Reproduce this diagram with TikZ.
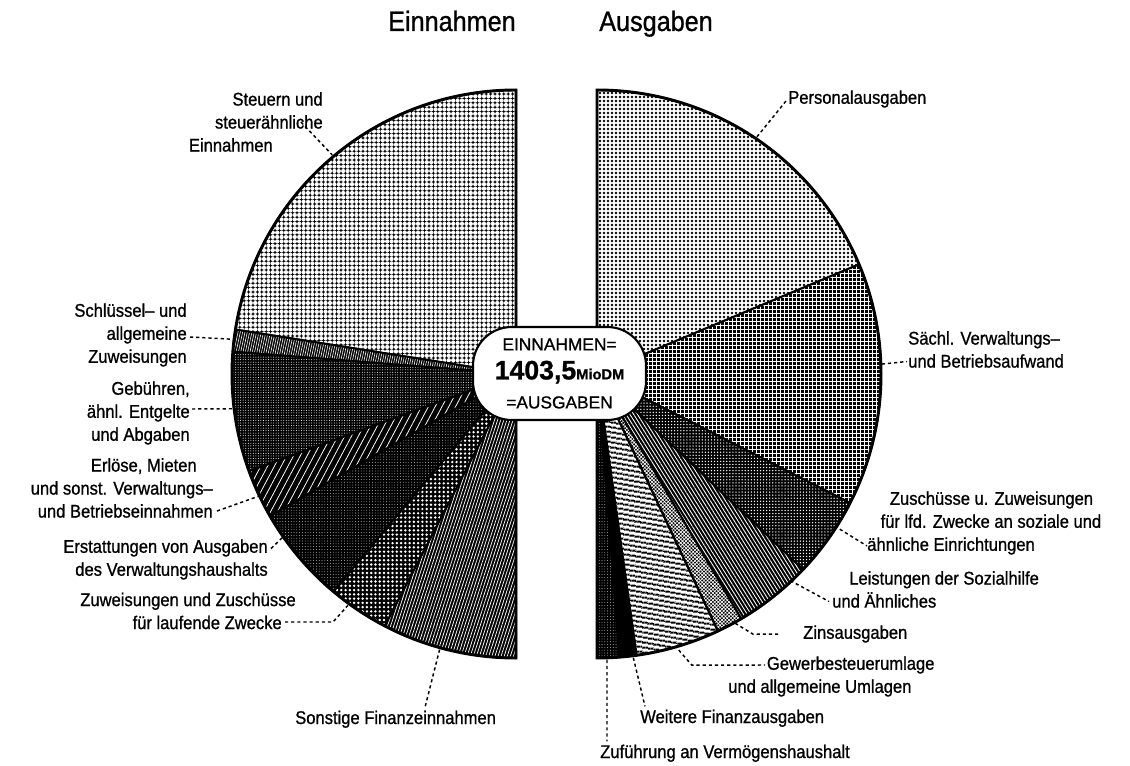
\documentclass[tikz,border=0pt]{standalone}
\usepackage{fontspec}
\setmainfont[FakeStretch=0.9,FakeBold=0.9]{Liberation Sans}
\newfontfamily\totalfont[FakeBold=0.9]{Liberation Sans}
\usetikzlibrary{calc,patterns.meta}

\begin{document}
\begin{tikzpicture}[
    x=0.75pt,y=0.75pt,
    wedge/.style={draw=black,line width=1.5pt,line join=round},
    halfrim/.style={draw=black,line width=2.2pt},
    ondark/.style={wedge,preaction={fill=black},pattern color=white},
    onlight/.style={wedge,pattern color=black},
    honeycomb/.style={ondark,pattern={Dots[radius=1.6pt,distance=3.3pt]}},
    vstripes/.style={ondark,pattern={Lines[angle=78,distance=1.7pt,line width=0.45pt]}},
    finegrid/.style={ondark,pattern={Dots[radius=0.38pt,distance=1.9pt]}},
    ticks/.style={ondark,pattern={Lines[angle=62,distance=4.5pt,line width=0.6pt]}},
    speckle/.style={ondark,pattern={Dots[radius=0.3pt,distance=2.1pt]}},
    whitedots/.style={ondark,pattern={Dots[radius=1pt,distance=3.2pt]}},
    finehatch/.style={ondark,pattern={Lines[angle=72,distance=2.2pt,line width=0.55pt]}},
    blackdots/.style={onlight,pattern={Dots[radius=1pt,distance=3pt]}},
    whitegrid/.style={ondark,pattern={Hatch[angle=0,distance=3pt,line width=0.6pt]}},
    darkdots/.style={ondark,pattern={Dots[radius=0.55pt,distance=2.3pt]}},
    diaglines/.style={ondark,pattern={Lines[angle=-58,distance=2.4pt,line width=0.65pt]}},
    crosshatch/.style={ondark,pattern={Hatch[angle=45,distance=1.9pt,line width=0.5pt]}},
    hstripes/.style={onlight,pattern={Lines[angle=-10,distance=4pt,line width=1.8pt]}},
    solid/.style={wedge,fill=black},
    leader/.style={line width=1.1pt,dash pattern=on 2.4pt off 2.2pt},
    lab/.style={font=\fontsize{13.8}{17.25}\selectfont,inner sep=0pt},
    labl/.style={lab,align=right,anchor=east},
    labr/.style={lab,align=left,anchor=west},
    heading/.style={font=\fontsize{21}{25}\selectfont,inner sep=0pt},
    total/.style={draw=black,fill=white,line width=1.6pt,rounded corners=29pt,
        minimum width=129.75pt,minimum height=69.75pt,inner sep=0pt,align=center,
        font=\totalfont\fontsize{13}{21.75}\selectfont}
]
\useasboundingbox (0,0) rectangle (1130,765);

\coordinate (cl) at (516,391);
\coordinate (cr) at (597,391);

% Einnahmen
\draw[honeycomb] (cl) -- ++(90:284) arc[start angle=90,end angle=171,radius=284] -- cycle;
\draw[vstripes] (cl) -- ++(171:284) arc[start angle=171,end angle=175.5,radius=284] -- cycle;
\draw[finegrid] (cl) -- ++(175.5:284) arc[start angle=175.5,end angle=200,radius=284] -- cycle;
\draw[ticks] (cl) -- ++(200:284) arc[start angle=200,end angle=210,radius=284] -- cycle;
\draw[speckle] (cl) -- ++(210:284) arc[start angle=210,end angle=230,radius=284] -- cycle;
\draw[whitedots] (cl) -- ++(230:284) arc[start angle=230,end angle=242.5,radius=284] -- cycle;
\draw[finehatch] (cl) -- ++(242.5:284) arc[start angle=242.5,end angle=270,radius=284] -- cycle;
\draw[halfrim] ($(cl)+(90:284)$) arc[start angle=90,end angle=270,radius=284] -- cycle;

% Ausgaben
\draw[blackdots] (cr) -- ++(90:284) arc[start angle=90,end angle=22.7,radius=284] -- cycle;
\draw[whitegrid] (cr) -- ++(22.7:284) arc[start angle=22.7,end angle=-27,radius=284] -- cycle;
\draw[darkdots] (cr) -- ++(-27:284) arc[start angle=-27,end angle=-43.5,radius=284] -- cycle;
\draw[diaglines] (cr) -- ++(-43.5:284) arc[start angle=-43.5,end angle=-59.5,radius=284] -- cycle;
\draw[crosshatch] (cr) -- ++(-59.5:284) arc[start angle=-59.5,end angle=-64.8,radius=284] -- cycle;
\draw[hstripes] (cr) -- ++(-64.8:284) arc[start angle=-64.8,end angle=-82,radius=284] -- cycle;
\draw[solid] (cr) -- ++(-82:284) arc[start angle=-82,end angle=-85.5,radius=284] -- cycle;
\draw[speckle] (cr) -- ++(-85.5:284) arc[start angle=-85.5,end angle=-90,radius=284] -- cycle;
\draw[halfrim] ($(cr)+(90:284)$) arc[start angle=90,end angle=-90,radius=284] -- cycle;

\node[total] (sum) at (559.5,391.5) {EINNAHMEN=\\
  {\fontsize{20}{20}\selectfont\bfseries 1403,5}{\fontsize{11}{11}\selectfont\bfseries MioDM}\\
  =AUSGABEN};

\node[heading,anchor=base east] (tEin) at (516,734) {Einnahmen};
\node[heading,anchor=base west] (tAus) at (599,734) {Ausgaben};

% rim points of the leaders
\coordinate (pSteu) at ($(cl)+(130:286)$);
\coordinate (pSchl) at ($(cl)+(173:285)$);
\coordinate (pGeb) at ($(cl)+(187:285)$);
\coordinate (pErl) at ($(cl)+(205.4:285)$);
\coordinate (pErst) at ($(cl)+(215:285)$);
\coordinate (pZuw) at ($(cl)+(234:286)$);
\coordinate (pSonst) at ($(cl)+(254.5:286)$);
\coordinate (pPers) at ($(cr)+(56:286)$);
\coordinate (pSaechl) at ($(cr)+(2:285)$);
\coordinate (pZusch) at ($(cr)+(-32.6:282)$);
\coordinate (pLeist) at ($(cr)+(-46.9:283)$);
\coordinate (pZins) at ($(cr)+(-61:285)$);
\coordinate (pGew) at ($(cr)+(-73.5:288)$);
\coordinate (pWeit) at ($(cr)+(-82.7:286)$);
\coordinate (pZuf) at ($(cr)+(-88:286)$);

\node[labl] (lSteu) at (323,643) {Steuern und\\ steuerähnliche\hspace*{19.5pt}\\ Einnahmen\hspace*{37.5pt}};
\node[labl] (lSchl) at (187,430) {Schlüssel-- und\\ allgemeine\\ Zuweisungen};
\node[labl] (lGeb) at (190,352) {Gebühren,\\ ähnl. Entgelte\\ und Abgaben};
\node[labl] (lErl) at (213,277) {Erlöse, Mieten\hspace*{12pt}\\ und sonst. Verwaltungs--\\ und Betriebseinnahmen};
\node[labl] (lErst) at (268,205.5) {Erstattungen von Ausgaben\\ des Verwaltungshaushalts};
\node[labl] (lZuw) at (296,154) {Zuweisungen und Zuschüsse\\ für laufende Zwecke\hspace*{10.5pt}};
\node[lab,anchor=base west] (lSonst) at (295,41) {Sonstige Finanzeinnahmen};

\node[labr] (lPers) at (788,666) {Personalausgaben};
\node[labr] (lSaechl) at (908,415.5) {Sächl. Verwaltungs--\\ und Betriebsaufwand};
\node[labr] (lZusch) at (867,242) {\hspace*{17pt}Zuschüsse u. Zuweisungen\\ \hspace*{10pt}für lfd. Zwecke an soziale und\\ ähnliche Einrichtungen};
\node[labr] (lLeist) at (832,175.5) {\hspace*{12.75pt}Leistungen der Sozialhilfe\\ und Ähnliches};
\node[labr] (lZins) at (803,131) {Zinsausgaben};
\node[labr] (lGew) at (728,88.5) {\hspace*{29pt}Gewerbesteuerumlage\\ und allgemeine Umlagen};
\node[lab,anchor=base west] (lWeit) at (640,42) {Weitere Finanzausgaben};
\node[lab,anchor=base west] (lZuf) at (600,7) {Zuführung an Vermögenshaushalt};

\draw[leader] ($(lSteu.east)+(-22,0)$) -- (pSteu);
\draw[leader] ($(lSchl.east)+(3,-2)$) -- (pSchl);
\draw[leader] ($(lGeb.east)+(2,4)$) -- (pGeb);
\draw[leader] ($(lErl.east)+(4,-23)$) -- (pErl);
\draw[leader] ($(lErst.east)+(3,11)$) -- (pErst);
\draw[leader] ($(lZuw.east)+(-11,-11)$) -- ++(48,0) -- (pZuw);
\draw[leader] (pSonst) -- ($(lSonst.north west)+(130,3)$);
\draw[leader] (pPers) -- ($(lPers.west)+(-2,-2)$);
\draw[leader] (pSaechl) -- ($(lSaechl.west)+(-1,-12)$);
\draw[leader] (pZusch) -- ($(lZusch.west)+(0,-23)$);
\draw[leader] (pLeist) -- ($(lLeist.west)+(-3,-12)$);
\draw[leader] (pZins) -- ++(18,-11) -- ($(lZins.west)+(-22,0)$);
\draw[leader] (pGew) -- ++(13,-15) -- ($(lGew.west)+(37,11.5)$);
\draw[leader] (pWeit) -- ($(lWeit.north west)+(5,3)$);
\draw[leader] (pZuf) -- ($(lZuf.north west)+(7,3)$);
\end{tikzpicture}
\end{document}
